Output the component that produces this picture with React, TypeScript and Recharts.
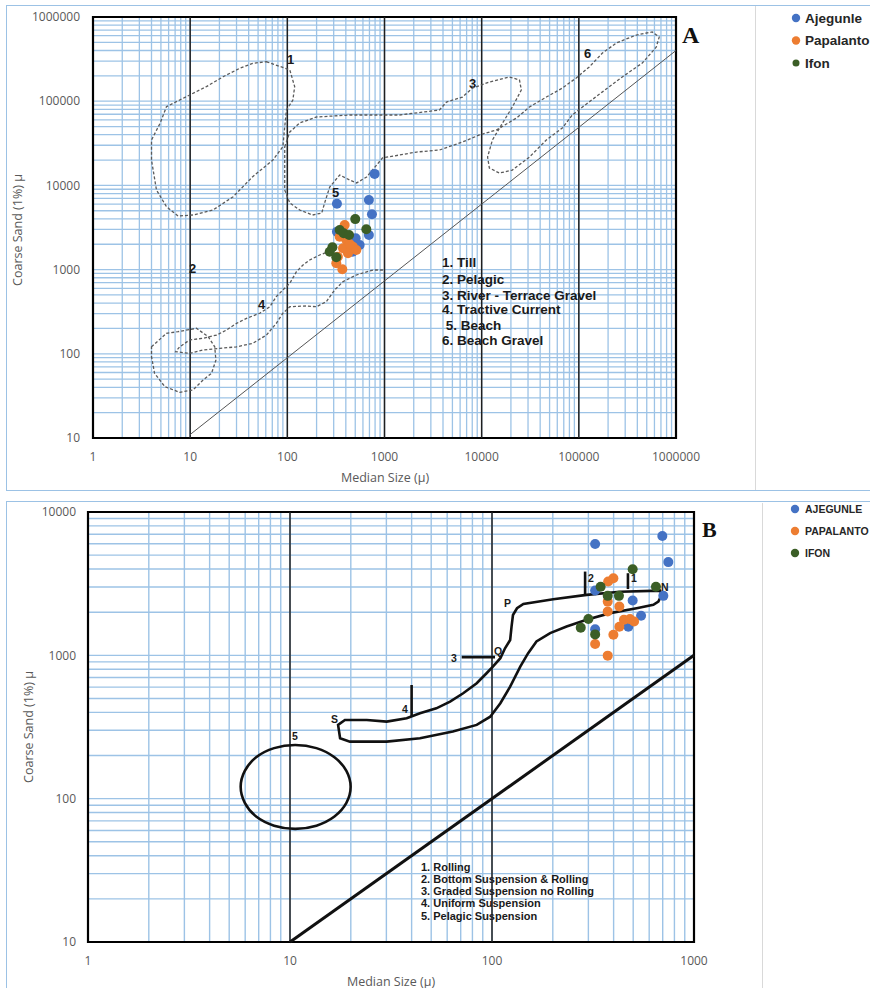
import React from 'react';
import {
  ScatterChart,
  Scatter,
  XAxis,
  YAxis,
  CartesianGrid,
  ReferenceLine,
  ReferenceArea,
  Legend,
  Customized,
} from 'recharts';

const BLUE = '#4472C4';
const ORANGE = '#ED7D31';
const GREEN = '#3B5E26';
const GRID = '#9DC3E6';
const TICK_FONT = "'Open Sans', 'Liberation Sans', sans-serif";
const BOLD_FONT = "'Liberation Sans', Arial, sans-serif";
const SERIF_FONT = "'Liberation Serif', 'DejaVu Serif', serif";

// ---------- axes / ticks ----------
const minorSteps = [1, 2, 3, 4, 5, 6, 7, 8, 9];
const topXDecades = [1, 10, 100, 1000, 10000, 100000, 1000000];
const topYDecades = [10, 100, 1000, 10000, 100000, 1000000];
const botXDecades = [1, 10, 100, 1000];
const botYDecades = [10, 100, 1000, 10000];
const topBlackX = [10, 100, 1000, 10000, 100000];
const botBlackX = [10, 100];

const withMinors = (dec: number[]) =>
  dec.flatMap((d, i) => (i === dec.length - 1 ? [d] : minorSteps.map((m) => m * d)));
const topXTicks = withMinors(topXDecades);
const topYTicks = withMinors(topYDecades);
const botXTicks = withMinors(botXDecades);
const botYTicks = withMinors(botYDecades);
const decadeSet = new Set([...topXDecades, ...topYDecades]);
const fmt = (v: number) => (decadeSet.has(v) ? String(v) : '');

// ---------- panel A data ----------
const topAjegunle = [
  [791, 13700], [324, 6060], [691, 6710], [743, 4540], [691, 2580],
  [324, 2820], [505, 2350], [555, 1960], [470, 1630],
];
const topPapalanto = [
  [389, 3390], [374, 2820], [346, 2460], [405, 2250], [473, 1870], [374, 1790],
  [421, 1560], [331, 1420], [319, 1190], [368, 1010], [513, 1710], [440, 2000],
];
const topIfon = [
  [500, 3980], [650, 3010], [346, 2950], [380, 2700], [432, 2580],
  [291, 1840], [273, 1630], [319, 1400],
];

const envTill = [
  [61, 294000], [106, 235000], [119, 149000], [114, 103000], [98, 78700], [94, 49800],
  [90, 28800], [71, 20000], [44, 12700], [27.7, 7340], [17.2, 5100], [10.7, 4450],
  [7.5, 4330], [5.7, 5590], [4.5, 8820], [4.0, 20000], [4.0, 34600], [4.9, 54600],
  [5.7, 86000], [7.2, 98700], [9.9, 118500], [14.7, 149000], [21.8, 195000],
  [32.4, 246000], [44, 282000],
];
const envPelagic = [
  [4.0, 121], [5.7, 175], [7.5, 183], [11.6, 201], [15.3, 160], [17.9, 121], [18.4, 84],
  [16.6, 58.7], [13.6, 48.9], [10.7, 37.2], [7.8, 34.9], [5.5, 40.6], [4.3, 58.7], [4.0, 92.4],
];
const envRiverBeach = [
  [94, 28600], [106, 43100], [134, 55100], [200, 64900], [438, 68600], [1430, 68600],
  [3680, 78600], [4350, 97800], [6350, 112000], [8040, 143000], [12000, 169000],
  [19300, 194000], [24500, 179000], [25600, 136000], [20700, 85300], [16400, 55100],
  [12900, 34600], [11500, 21700], [12000, 16100], [15200, 14000], [20700, 15200],
  [31000, 21700], [46300, 34600], [67600, 48000], [85700, 68600], [109000, 85300],
  [175000, 129000], [280000, 194000], [450000, 284000], [627000, 440000],
  [672000, 579000], [569000, 664000], [390000, 611000], [243000, 491000],
  [175000, 373000], [128000, 255000], [94200, 189000], [67600, 143000],
  [46300, 112000], [31000, 85300], [22800, 63100], [14200, 45500], [9490, 39700],
  [6350, 32800], [3680, 26300], [2140, 24900], [955, 21200], [655, 12600],
  [517, 10700], [438, 11600], [346, 13300], [273, 9570], [242, 6180], [226, 4700],
  [182, 4450], [134, 5100], [106, 6180], [94, 8820], [94, 15200],
];
const envTractive = [
  [963, 989], [760, 989], [513, 863], [373, 718], [307, 573], [252, 416], [199, 362],
  [157, 370], [106, 362], [90, 303], [77, 230], [61, 167], [44, 133], [30, 121],
  [20.2, 116], [13.6, 111], [9.9, 101], [7.1, 106], [7.8, 121], [9.9, 146], [13.6, 153],
  [18.7, 167], [23.7, 192], [30, 230], [38, 264], [52, 303], [66, 362], [77, 477],
  [90, 573], [106, 687], [124, 944], [145, 1135], [170, 1300], [215, 1490], [262, 1630],
];
const topDiagonal = [{ x: 10, y: 11 }, { x: 1000000, y: 400000 }];
const topZoneNames = [
  '1. Till', '2. Pelagic', '3. River - Terrace Gravel', '4. Tractive Current', ' 5. Beach', '6. Beach Gravel',
];
const topZoneNumbers = ['1', '2', '3', '4', '5', '6'];

// ---------- panel B data ----------
const botAjegunle = [
  [324, 5980], [697, 6810], [746, 4470], [324, 2830], [497, 2410], [705, 2600],
  [547, 1890], [473, 1585], [324, 1520],
];
const botPapalanto = [
  [376, 3270], [399, 3450], [374, 2370], [374, 2020], [427, 2190], [450, 1770],
  [482, 1790], [505, 1720], [427, 1585], [399, 1390], [324, 1200], [374, 995],
];
const botIfon = [
  [497, 3990], [345, 3010], [648, 3010], [374, 2600], [425, 2600], [300, 1795],
  [275, 1560], [324, 1400],
];
const envNPQRS = [
  [679, 2830], [430, 2780], [294, 2640], [201, 2460], [143, 2280], [133, 2130],
  [127, 1910], [125, 1590], [123, 1280], [116, 1120], [110, 955], [101, 834], [94, 750],
  [84, 639], [72, 544], [62, 475], [53, 427], [44, 394], [37.8, 364], [30.1, 345],
  [24.0, 354], [18.7, 354], [17.3, 327], [17.7, 264], [19.8, 250], [30.1, 250], [44, 264],
  [64, 294], [84, 327], [98, 373], [110, 463], [123, 605], [138, 834], [151, 1035],
  [166, 1250], [194, 1430], [234, 1590], [294, 1770], [384, 1970], [520, 2130],
  [629, 2250], [666, 2370], [692, 2640],
];
const envPelagicSusp = [
  [20.3, 121], [19.3, 157], [16.8, 197], [13.6, 229], [10.6, 241], [8.3, 229], [6.7, 197],
  [5.9, 157], [5.6, 121], [5.9, 92.7], [6.7, 74.1], [8.3, 63.8], [10.6, 60.5], [13.6, 63.8],
  [16.8, 74.1], [19.3, 92.7],
];
const botDiagonal = [{ x: 10, y: 10 }, { x: 1000, y: 1000 }];
const botMarkers = [
  [{ x: 471, y: 2900 }, { x: 471, y: 3740 }],
  [{ x: 289, y: 2640 }, { x: 289, y: 3840 }],
  [{ x: 70.8, y: 971 }, { x: 103.5, y: 971 }],
  [{ x: 40, y: 373 }, { x: 40, y: 621 }],
];
const botZoneNames = [
  '1. Rolling', '2. Bottom Suspension & Rolling', '3. Graded Suspension no Rolling',
  '4. Uniform Suspension', '5. Pelagic Suspension',
];

const topSeries = [
  { name: 'Ajegunle', color: BLUE, data: topAjegunle },
  { name: 'Papalanto', color: ORANGE, data: topPapalanto },
  { name: 'Ifon', color: GREEN, data: topIfon },
];
const botSeries = [
  { name: 'AJEGUNLE', color: BLUE, data: botAjegunle },
  { name: 'PAPALANTO', color: ORANGE, data: botPapalanto },
  { name: 'IFON', color: GREEN, data: botIfon },
];

type Pt = { x: number; y: number };
const pts = (a: number[][]): Pt[] => a.map(([x, y]) => ({ x, y }));
const noShape = () => <g />;
const dotShape = (color: string, r: number) => (p: any) => (
  <circle cx={p.cx} cy={p.cy} r={r} fill={color} />
);

const tickStyle = { fill: '#595959', fontSize: 12, fontFamily: TICK_FONT };
const dashed = { stroke: '#5a5a5a', strokeWidth: 1.3, strokeDasharray: '3 2' };
const solid = { stroke: '#111', strokeWidth: 2.6 };

const TopAnnotations = () => {
  const numPos = [
    [287, 64], [189, 273], [469, 88], [258, 309], [332, 197], [584, 58],
  ];
  const baselines = [267, 283.5, 299.5, 313.5, 329.5, 344.5];
  return (
    <g>
      {topZoneNumbers.map((t, i) => (
        <text key={t} x={numPos[i][0]} y={numPos[i][1]} fontFamily={BOLD_FONT} fontWeight="bold" fontSize={13} fill="#1a1a1a">
          {t}
        </text>
      ))}
      {topZoneNames.map((t, i) => (
        <text key={t} x={442} y={baselines[i]} fontFamily={BOLD_FONT} fontWeight="bold" fontSize={13.5} fill="#1a1a1a" style={{ whiteSpace: 'pre' }}>
          {t}
        </text>
      ))}
      <text x={682} y={43} fontFamily={SERIF_FONT} fontWeight="bold" fontSize={24} fill="#111">A</text>
      <text x={385} y={477} textAnchor="middle" dominantBaseline="central" fontFamily={TICK_FONT} fontSize={12.5} fill="#595959">
        Median Size (μ)
      </text>
      <text x={17} y={230} textAnchor="middle" dominantBaseline="central" transform="rotate(-90 17 230)" fontFamily={TICK_FONT} fontSize={12.5} fill="#595959">
        Coarse Sand (1%) μ
      </text>
    </g>
  );
};

const BottomAnnotations = () => {
  const labels = [
    ['2', 588, 86.5], ['1', 631, 87], ['N', 661, 96], ['P', 504, 112], ['3', 451, 167],
    ['Q', 494, 160], ['4', 402, 218], ['S', 331, 228], ['5', 292, 245],
  ] as [string, number, number][];
  const baselines = [376, 388, 400, 412, 425];
  return (
    <g>
      {labels.map(([t, x, y]) => (
        <text key={t + x} x={x} y={y} fontFamily={BOLD_FONT} fontWeight="bold" fontSize={10.5} fill="#1a1a1a">
          {t}
        </text>
      ))}
      {botZoneNames.map((t, i) => (
        <text key={t} x={421} y={baselines[i]} fontFamily={BOLD_FONT} fontWeight="bold" fontSize={11} fill="#1a1a1a">
          {t}
        </text>
      ))}
      <text x={702} y={42} fontFamily={SERIF_FONT} fontWeight="bold" fontSize={22} fill="#111">B</text>
      <text x={391} y={486} textAnchor="middle" dominantBaseline="central" fontFamily={TICK_FONT} fontSize={12.5} fill="#595959">
        Median Size (μ)
      </text>
      <text x={28} y={232} textAnchor="middle" dominantBaseline="central" transform="rotate(-90 28 232)" fontFamily={TICK_FONT} fontSize={12.5} fill="#595959">
        Coarse Sand (1%) μ
      </text>
    </g>
  );
};

const TopLegend = () => (
  <svg width={85} height={75}>
    {topSeries.map((s, i) => (
      <g key={s.name}>
        <circle cx={11} cy={18 + i * 22.5} r={i === 2 ? 3.5 : 4.2} fill={s.color} />
        <text x={20} y={22.8 + i * 22.5} fontFamily={BOLD_FONT} fontWeight="bold" fontSize={13.5} fill="#262626">
          {s.name}
        </text>
      </g>
    ))}
  </svg>
);

const BottomLegend = () => (
  <svg width={85} height={75}>
    {botSeries.map((s, i) => (
      <g key={s.name}>
        <circle cx={10} cy={14 + i * 22} r={4.2} fill={s.color} />
        <text x={20} y={17.8 + i * 22} fontFamily={BOLD_FONT} fontWeight="bold" fontSize={10.5} fill="#262626">
          {s.name}
        </text>
      </g>
    ))}
  </svg>
);

function TopChart() {
  return (
    <ScatterChart width={870} height={495} margin={{ top: 17, right: 194, bottom: 32, left: 33 }}>
      <CartesianGrid stroke={GRID} strokeWidth={1.3} />
      <XAxis
        type="number" dataKey="x" scale="log" domain={[1, 1000000]} allowDataOverflow
        ticks={topXTicks} interval={0} tickFormatter={fmt} tick={tickStyle}
        tickLine={false} axisLine={false} tickMargin={8} height={25}
      />
      <YAxis
        type="number" dataKey="y" scale="log" domain={[10, 1000000]} allowDataOverflow
        ticks={topYTicks} interval={0} tickFormatter={fmt} tick={tickStyle}
        tickLine={false} axisLine={false} tickMargin={7} width={60}
      />
      {topBlackX.map((v) => (
        <ReferenceLine key={v} x={v} stroke="#1f1f1f" strokeWidth={1.5} />
      ))}
      <ReferenceLine segment={topDiagonal} stroke="#555" strokeWidth={1} />
      <Scatter data={pts(envTill)} line={dashed} lineJointType="linearClosed" shape={noShape} isAnimationActive={false} legendType="none" />
      <Scatter data={pts(envPelagic)} line={dashed} lineJointType="linearClosed" shape={noShape} isAnimationActive={false} legendType="none" />
      <Scatter data={pts(envRiverBeach)} line={dashed} lineJointType="linearClosed" shape={noShape} isAnimationActive={false} legendType="none" />
      <Scatter data={pts(envTractive)} line={dashed} lineJointType="linear" shape={noShape} isAnimationActive={false} legendType="none" />
      {topSeries.map((s) => (
        <Scatter key={s.name} name={s.name} data={pts(s.data)} fill={s.color} shape={dotShape(s.color, 5)} isAnimationActive={false} />
      ))}
      <ReferenceArea x1={1} x2={1000000} y1={10} y2={1000000} fill="none" stroke="#000" strokeWidth={2.2} ifOverflow="visible" />
      <Legend
        layout="horizontal" verticalAlign="middle" align="center"
        wrapperStyle={{ position: 'absolute', left: 785, top: 0, width: 85, height: 75 }}
        content={() => <TopLegend />}
      />
      <Customized component={<TopAnnotations />} />
    </ScatterChart>
  );
}

function BottomChart() {
  return (
    <ScatterChart width={870} height={493} margin={{ top: 17, right: 176, bottom: 21, left: 28 }}>
      <CartesianGrid stroke={GRID} strokeWidth={1.4} />
      <XAxis
        type="number" dataKey="x" scale="log" domain={[1, 1000]} allowDataOverflow
        ticks={botXTicks} interval={0} tickFormatter={fmt} tick={tickStyle}
        tickLine={false} axisLine={false} tickMargin={8} height={25}
      />
      <YAxis
        type="number" dataKey="y" scale="log" domain={[10, 10000]} allowDataOverflow
        ticks={botYTicks} interval={0} tickFormatter={fmt} tick={tickStyle}
        tickLine={false} axisLine={false} tickMargin={6} width={60}
      />
      {botBlackX.map((v) => (
        <ReferenceLine key={v} x={v} stroke="#1f1f1f" strokeWidth={1.5} />
      ))}
      <ReferenceLine segment={botDiagonal} stroke="#111" strokeWidth={3} />
      {botMarkers.map((seg, i) => (
        <ReferenceLine key={i} segment={seg} stroke="#111" strokeWidth={2.6} />
      ))}
      <Scatter data={pts(envNPQRS)} line={solid} lineJointType="linearClosed" shape={noShape} isAnimationActive={false} legendType="none" />
      <Scatter data={pts(envPelagicSusp)} line={solid} lineJointType="basisClosed" shape={noShape} isAnimationActive={false} legendType="none" />
      {botSeries.map((s) => (
        <Scatter key={s.name} name={s.name} data={pts(s.data)} fill={s.color} shape={dotShape(s.color, 5)} isAnimationActive={false} />
      ))}
      <ReferenceArea x1={1} x2={1000} y1={10} y2={10000} fill="none" stroke="#000" strokeWidth={2.2} ifOverflow="visible" />
      <Legend
        layout="horizontal" verticalAlign="middle" align="center"
        wrapperStyle={{ position: 'absolute', left: 785, top: 0, width: 85, height: 75 }}
        content={() => <BottomLegend />}
      />
      <Customized component={<BottomAnnotations />} />
    </ScatterChart>
  );
}

export default function App() {
  return (
    <div style={{ position: 'relative', width: 870, height: 988, overflow: 'hidden', background: '#fff' }}>
      <style>{'html,body{margin:0;padding:0;overflow:hidden;background:#fff}'}</style>
      <div style={{ position: 'absolute', left: 6, top: 5, width: 900, height: 484, border: '1.5px solid #9CC2E5' }} />
      <div style={{ position: 'absolute', left: 755, top: 6, width: 1, height: 484, background: '#d9d9d9' }} />
      <div style={{ position: 'absolute', left: 6, top: 501, width: 900, height: 520, border: '1.5px solid #9CC2E5' }} />
      <div style={{ position: 'absolute', left: 762, top: 503, width: 1, height: 485, background: '#d9d9d9' }} />
      <div style={{ position: 'absolute', left: 0, top: 0 }}>
        <TopChart />
      </div>
      <div style={{ position: 'absolute', left: 0, top: 495 }}>
        <BottomChart />
      </div>
    </div>
  );
}
